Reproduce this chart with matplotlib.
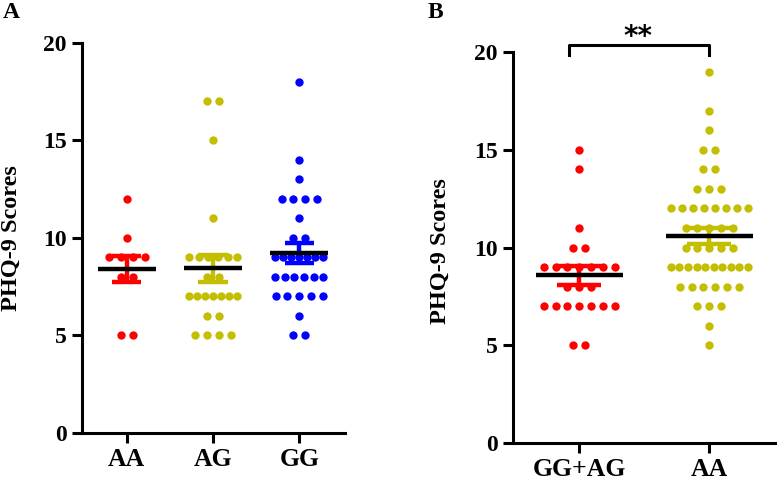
import numpy as np
from matplotlib import pyplot as plt

plt.rcParams['font.family'] = 'Liberation Serif'
plt.rcParams['font.weight'] = 'bold'

# panel A : PHQ-9 scores by genotype
geno_labels = ["AA", "AG", "GG"]
aa_scores = [12, 10, 9, 9, 9, 9, 8, 8, 5, 5]
ag_scores = [17, 17, 15, 11, 9, 9, 9, 9, 9, 9, 8, 8,
             7, 7, 7, 7, 7, 7, 7, 6, 6, 5, 5, 5, 5]
gg_scores = [18, 14, 13, 12, 12, 12, 12, 11, 10, 10,
             9, 9, 9, 9, 9, 9, 9, 8, 8, 8, 8, 8, 8,
             7, 7, 7, 7, 7, 6, 5, 5]

# panel B : GG+AG vs AA
grp_labels = ["GG+AG", "AA"]
ggag_scores = [15, 14, 11, 10, 10, 9, 9, 9, 9, 9, 9, 9, 8, 8, 8,
               7, 7, 7, 7, 7, 7, 7, 5, 5]
aab_scores = [19, 17, 16, 15, 15, 14, 14, 13, 13, 13,
              12, 12, 12, 12, 12, 12, 12, 12,
              11, 11, 11, 11, 11, 10, 10, 10, 10, 10,
              9, 9, 9, 9, 9, 9, 9, 9, 9, 9,
              8, 8, 8, 8, 8, 8, 7, 7, 7, 6, 5]
sig_text = "**"

COLS_A = ["#ff0000", "#c4be00", "#0000ff"]
COLS_B = ["#ff0000", "#c4be00"]


def swarm_x(vals, x0, step, maxw):
        vals = np.asarray(vals)
        xs = np.zeros(len(vals))
        for v in np.unique(vals):
                idx = np.where(vals == v)[0]
                n = len(idx)
                if n > 1:
                        s = min(step, maxw / (n - 1))
                        xs[idx] = (np.arange(n) - (n - 1) / 2) * s
        return x0 + xs


def draw_group(ax, vals, x0, col, step, maxw):
        ax.scatter(swarm_x(vals, x0, step, maxw), vals, s=36, color=col,
                   linewidths=0, zorder=2)
        m = np.mean(vals)
        se = np.std(vals, ddof=1) / np.sqrt(len(vals))
        ax.vlines(x0, m - se, m + se, color=col, lw=3.2, zorder=3)
        ax.hlines([m - se, m + se], x0 - 0.17, x0 + 0.17, color=col, lw=3.2, zorder=3)
        ax.hlines(m, x0 - 0.335, x0 + 0.335, color="black", lw=3.2, zorder=4)


def style(ax):
        for s in ["top", "right"]:
                ax.spines[s].set_visible(False)
        for s in ["left", "bottom"]:
                ax.spines[s].set_linewidth(2.2)
        ax.tick_params(width=2.2, length=7, labelsize=17, pad=4)
        ax.tick_params(axis="x", labelsize=18.5)
        ax.set_ylim(0, 20)
        ax.set_yticks([0, 5, 10, 15, 20])
        ax.set_ylabel("PHQ-9 Scores", fontsize=17.5, fontweight="bold")


fig = plt.figure(figsize=(7.77, 4.82), dpi=100)
axA = fig.add_axes([0.1055, 0.1017, 0.3385, 0.8091])
axB = fig.add_axes([0.660, 0.0809, 0.340, 0.8111])

for i, vals in enumerate([aa_scores, ag_scores, gg_scores]):
        draw_group(axA, vals, i, COLS_A[i], 0.137, 0.56)
axA.set_xlim(-0.52, 2.53)
axA.set_xticks(range(len(geno_labels)))
axA.set_xticklabels(geno_labels)
style(axA)
axA.yaxis.set_label_coords(-0.228, 0.5)

for i, vals in enumerate([ggag_scores, aab_scores]):
        draw_group(axB, vals, i, COLS_B[i], 0.091, 0.59)
axB.set_xlim(-0.51, 1.52)
axB.set_xticks(range(len(grp_labels)))
axB.set_xticklabels(grp_labels)
style(axB)
axB.yaxis.set_label_coords(-0.235, 0.49)

# significance bracket
axB.plot([-0.08, -0.08, 1, 1], [19.85, 20.36, 20.36, 19.85], color="black",
         lw=2.2, clip_on=False)
axB.text(0.45, 20.75, sig_text, ha="center", va="center", fontsize=20,
         fontweight="bold", family="DejaVu Sans")

fig.text(11 / 777, 1 - 13 / 482, "A", ha="center", va="center", fontsize=17, fontweight="bold")
fig.text(435 / 777, 1 - 12 / 482, "B", ha="center", va="center", fontsize=17, fontweight="bold")

plt.savefig("out.png", dpi=100)
